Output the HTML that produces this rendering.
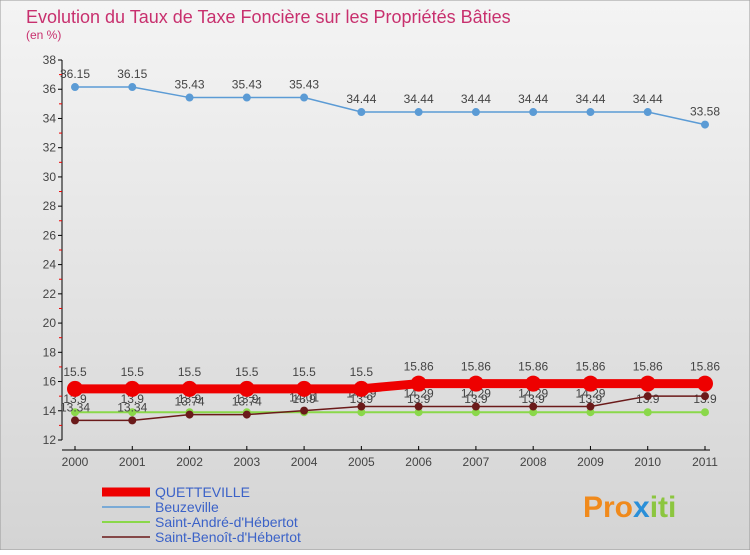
<!DOCTYPE html>
<html><head><meta charset="utf-8"><style>
body{margin:0;}
svg text{font-family:"Liberation Sans",sans-serif;}
</style></head><body>
<svg width="750" height="550" xmlns="http://www.w3.org/2000/svg">
<defs><linearGradient id="bg" x1="0" y1="0" x2="0" y2="1"><stop offset="0" stop-color="#f4f4f4"/><stop offset="1" stop-color="#d4d4d4"/></linearGradient></defs>
<rect x="0" y="0" width="750" height="550" fill="url(#bg)" stroke="#999"/>
<text x="26" y="23" font-size="18" fill="#c8306e">Evolution du Taux de Taxe Foncière sur les Propriétés Bâties</text>
<text x="26" y="39" font-size="12" fill="#c8306e">(en %)</text>
<g id="axes"></g>
<g id="series"></g>
<g id="legend"></g>
<text x="583" y="517" font-size="30" font-weight="bold" fill="#f08a1c">Pro<tspan fill="#2a8fd8">x</tspan><tspan fill="#8cc63f">iti</tspan></text>
</svg>
<script>
const years=["2000","2001","2002","2003","2004","2005","2006","2007","2008","2009","2010","2011"];
const yTicks=[12,14,16,18,20,22,24,26,28,30,32,34,36,38];
const quetteville=[15.5,15.5,15.5,15.5,15.5,15.5,15.86,15.86,15.86,15.86,15.86,15.86];
const beuzeville=[36.15,36.15,35.43,35.43,35.43,34.44,34.44,34.44,34.44,34.44,34.44,33.58];
const saintAndre=[13.9,13.9,13.9,13.9,13.9,13.9,13.9,13.9,13.9,13.9,13.9,13.9];
const saintBenoit=[13.34,13.34,13.74,13.74,14.01,14.29,14.29,14.29,14.29,14.29,15,15];
const names=["QUETTEVILLE","Beuzeville","Saint-André-d'Hébertot","Saint-Benoît-d'Hébertot"];
const NS="http://www.w3.org/2000/svg";
const X=i=>75+i*(630/11);
const Y=v=>440-(v-12)*(380/26);
function mk(tag,attrs,parent,txt){const e=document.createElementNS(NS,tag);for(const k in attrs)e.setAttribute(k,attrs[k]);if(txt!==undefined)e.textContent=txt;parent.appendChild(e);return e;}
const ax=document.getElementById('axes');
let e=mk('line',{x1:62,y1:60,x2:62,y2:440,stroke:'#000'},ax);

e=mk('line',{x1:62,y1:450,x2:710,y2:450,stroke:'#000'},ax);

yTicks.forEach(t=>{
 mk('line',{x1:58,y1:Y(t),x2:62,y2:Y(t),stroke:'#000'},ax);
 if(t<38) mk('line',{x1:59,y1:Y(t+1),x2:62,y2:Y(t+1),stroke:'#e00'},ax);
 const l=mk('text',{x:56,y:Y(t)+4,'font-size':12,'text-anchor':'end',fill:'#444'},ax,String(t));
 
});
years.forEach((y,i)=>{
 mk('line',{x1:X(i),y1:446,x2:X(i),y2:450,stroke:'#000'},ax);
 const l=mk('text',{x:X(i),y:466,'font-size':12,'text-anchor':'middle',fill:'#444'},ax,y);
 
});
const sg=document.getElementById('series');
const series=[
 {d:beuzeville,c:'#5b9bd5',w:1.5,r:4,n:'beuzeville'},
 {d:saintAndre,c:'#8ad84a',w:2,r:4,n:'saint-andre'},
 {d:saintBenoit,c:'#6b1a1a',w:1.5,r:4,n:'saint-benoit'},
 {d:quetteville,c:'#ee0000',w:9,r:8,n:'quetteville'}];
series.forEach(s=>{
 const g=mk('g',{},sg);
 
 const p=mk('polyline',{points:s.d.map((v,i)=>X(i)+','+Y(v)).join(' '),fill:'none',stroke:s.c,'stroke-width':s.w},g);
 
 s.d.forEach((v,i)=>{
  const c=mk('circle',{cx:X(i),cy:Y(v),r:s.r,fill:s.c},g);
  
  const t=mk('text',{x:X(i),y:Y(v)-(s.r+5),'font-size':12,'text-anchor':'middle',fill:'#444'},g,String(v));
  
 });
});
const lg=document.getElementById('legend');
const lc=['#ee0000','#5b9bd5','#8ad84a','#6b1a1a'],lw=[9,1.5,2,1.5];
names.forEach((n,i)=>{
 const y=492+i*15;
 const g=mk('g',{},lg);
 
 mk('line',{x1:102,y1:y,x2:150,y2:y,stroke:lc[i],'stroke-width':lw[i]},g);
 mk('text',{x:155,y:y+5,'font-size':14,fill:'#3b62c8'},g,n);
});
</script>
</body></html>
